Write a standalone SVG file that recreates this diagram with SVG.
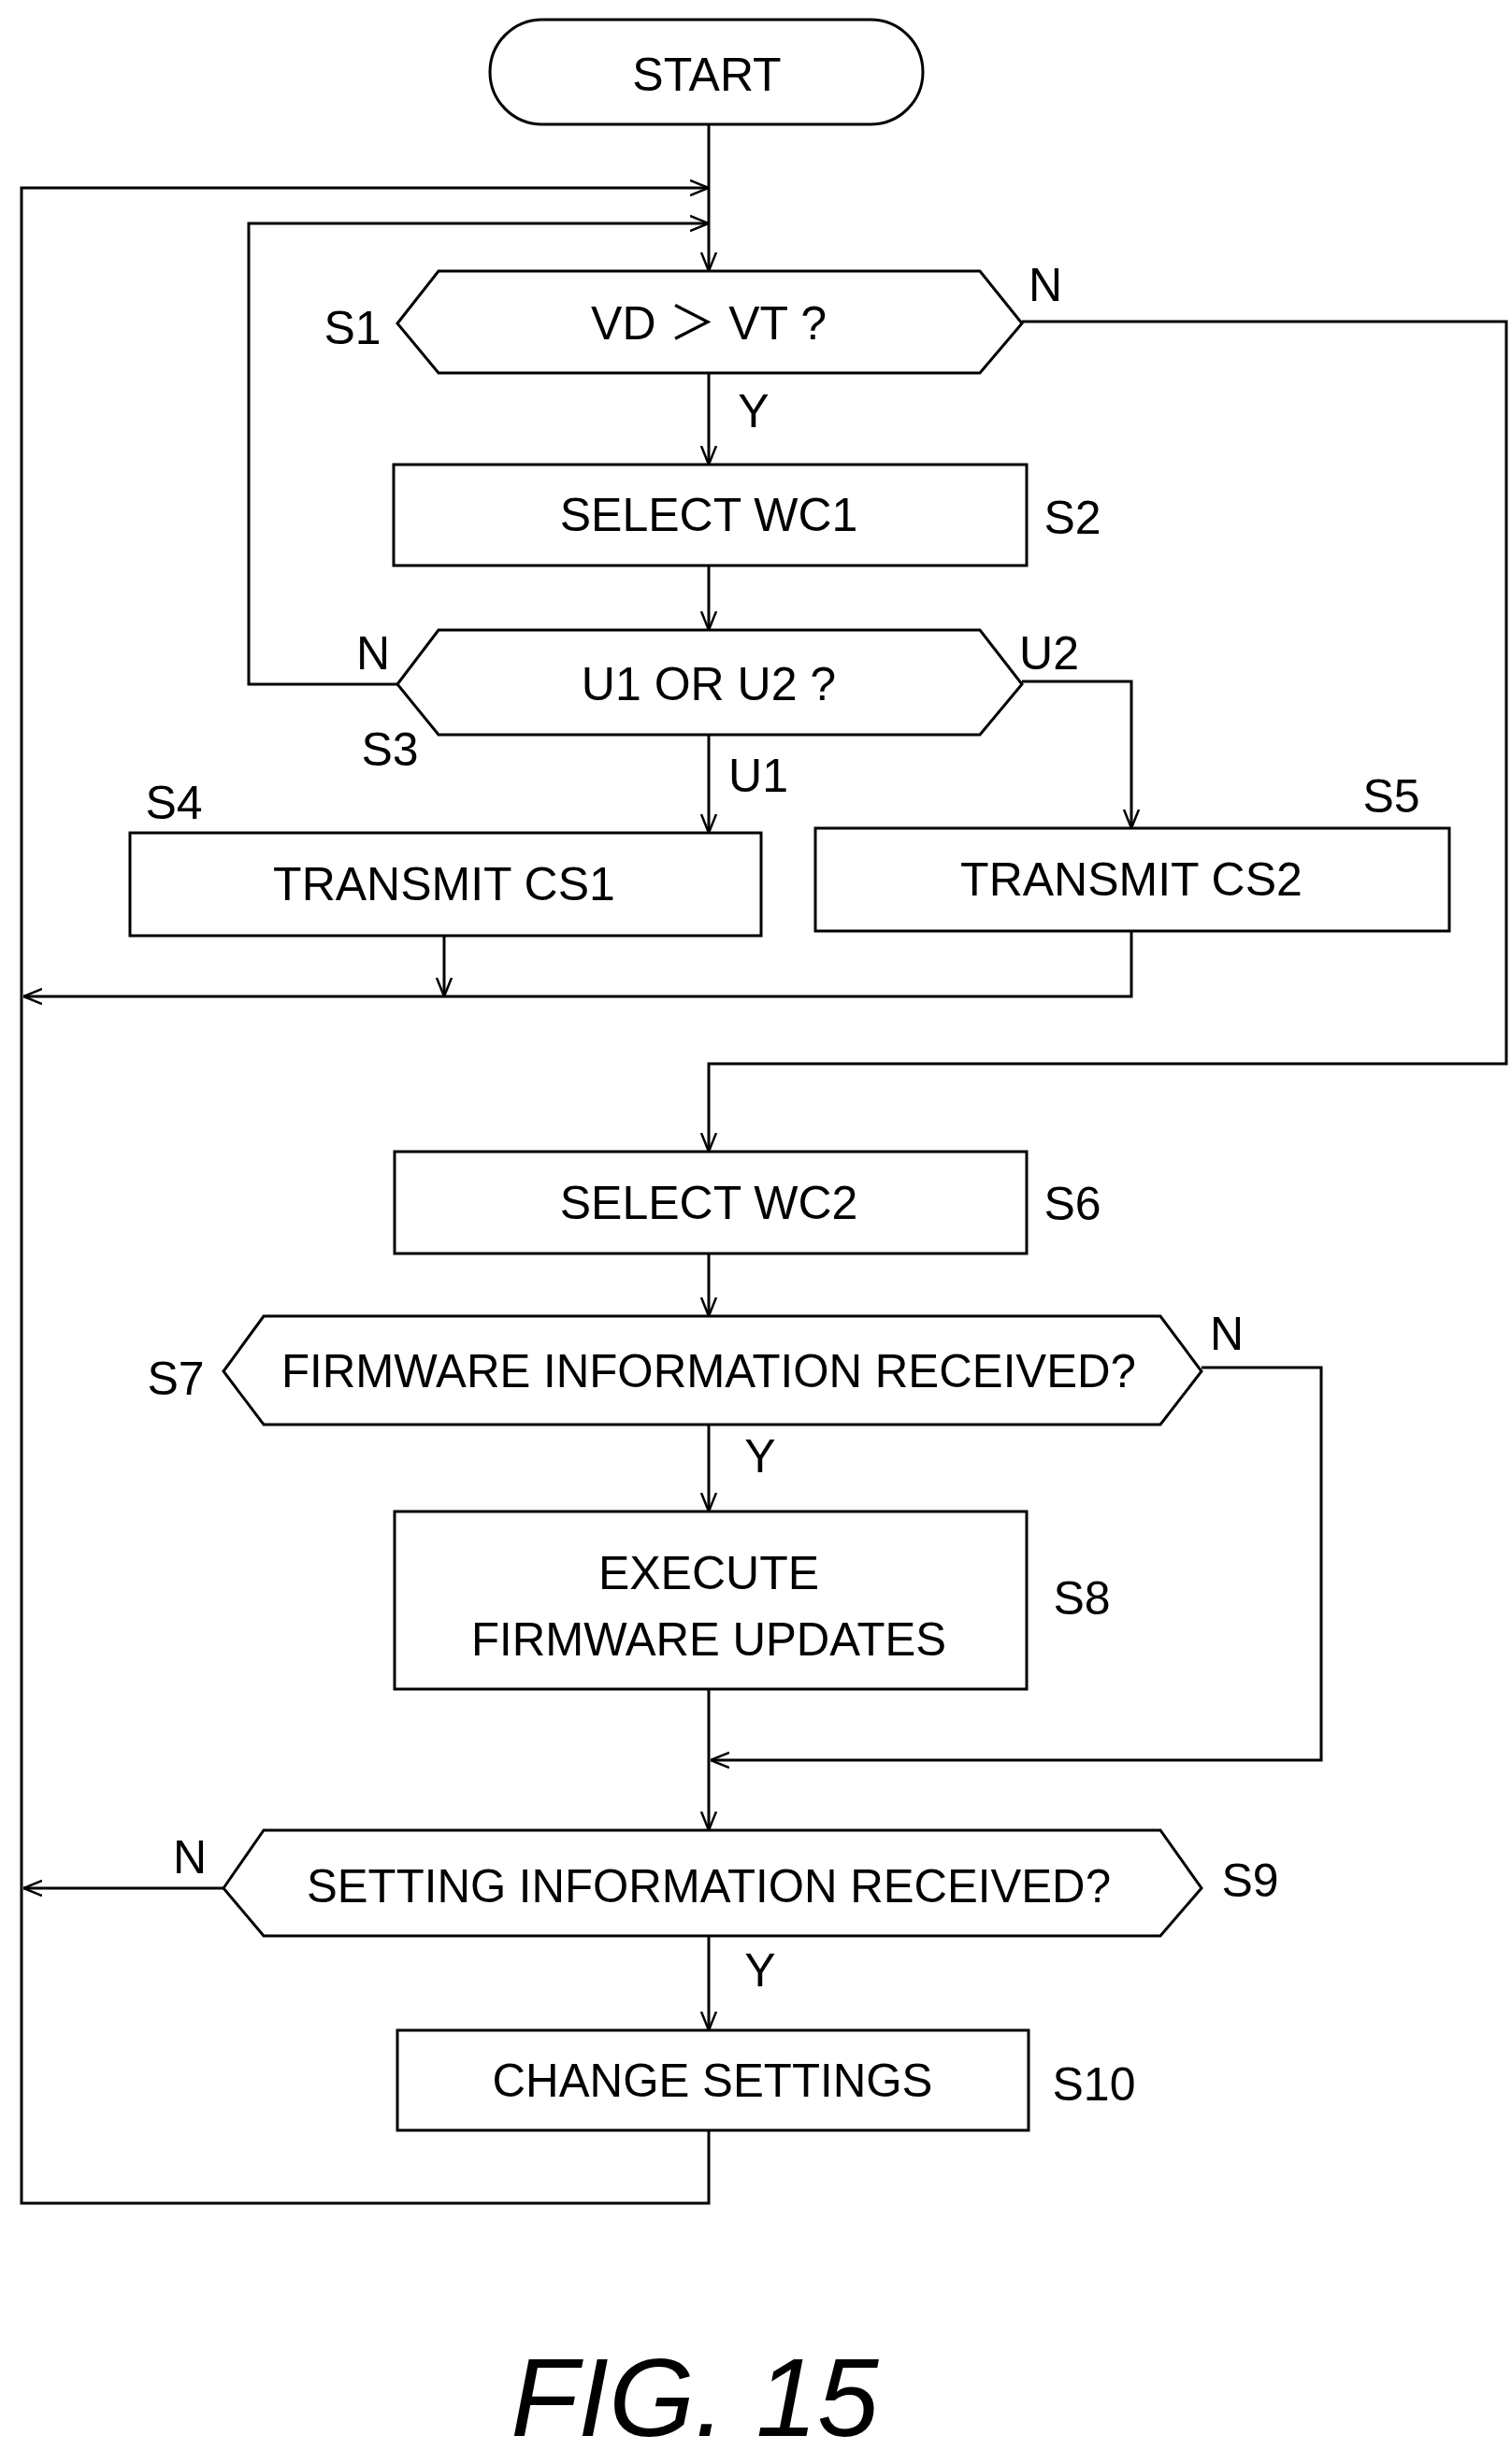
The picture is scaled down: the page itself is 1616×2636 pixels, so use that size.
<svg xmlns="http://www.w3.org/2000/svg" width="1616" height="2636" viewBox="0 0 1616 2636">
<style>
.s{fill:none;stroke:#000;stroke-width:3}
.n{fill:#fff;stroke:#000;stroke-width:3}
text{font-family:"Liberation Sans Narrow","Liberation Sans","Noto Sans CJK JP",sans-serif;font-size:50px;fill:#000;text-anchor:middle;dominant-baseline:central}
.fig{font-family:"Liberation Sans","Noto Sans",sans-serif;font-style:italic;font-size:118px;dominant-baseline:auto}
</style>
<defs>
<marker id="a" viewBox="0 0 20 20" refX="20" refY="10" markerWidth="20" markerHeight="20" markerUnits="userSpaceOnUse" orient="auto">
<path d="M0,2 L20,10 L0,18" fill="none" stroke="#000" stroke-width="2.5"/>
</marker>
</defs>
<g id="connectors" class="s">
<path d="M758,133 V290" marker-end="url(#a)"/>
<path d="M758,2279 V2357 H23 V201 H758" marker-end="url(#a)"/>
<path d="M425,732 H266 V239 H758" marker-end="url(#a)"/>
<path d="M758,399 V497" marker-end="url(#a)"/>
<path d="M758,605 V674" marker-end="url(#a)"/>
<path d="M758,786 V891" marker-end="url(#a)"/>
<path d="M1093,729 H1210 V886" marker-end="url(#a)"/>
<path d="M475,1001 V1066" marker-end="url(#a)"/>
<path d="M1210,996 V1066 H25" marker-end="url(#a)"/>
<path d="M1093,344 H1611 V1138 H758 V1232" marker-end="url(#a)"/>
<path d="M758,1341 V1408" marker-end="url(#a)"/>
<path d="M758,1524 V1617" marker-end="url(#a)"/>
<path d="M758,1807 V1958" marker-end="url(#a)"/>
<path d="M1285,1463 H1413 V1883 H760" marker-end="url(#a)"/>
<path d="M239,2020 H25" marker-end="url(#a)"/>
<path d="M758,2071 V2172" marker-end="url(#a)"/>
</g>
<g id="start"><rect class="n" x="524" y="21" width="463" height="112" rx="56"/><text x="756" y="80">START</text></g>
<g id="S1"><polygon class="n" points="425,346 469,290 1048,290 1093,346 1048,399 469,399"/><text x="758" y="346">VD ＞ VT ?</text><text x="377" y="351">S1</text><text x="1118" y="305">N</text><text x="806" y="440">Y</text></g>
<g id="S2"><rect class="n" x="421" y="497" width="677" height="108"/><text x="758" y="551">SELECT WC1</text><text x="1147" y="554">S2</text></g>
<g id="S3"><polygon class="n" points="425,732 469,674 1048,674 1093,732 1048,786 469,786"/><text x="758" y="732">U1 OR U2 ?</text><text x="399" y="699">N</text><text x="1122" y="699">U2</text><text x="417" y="802">S3</text><text x="811" y="830">U1</text></g>
<g id="S4"><rect class="n" x="139" y="891" width="675" height="110"/><text x="475" y="946">TRANSMIT CS1</text><text x="186" y="859">S4</text></g>
<g id="S5"><rect class="n" x="872" y="886" width="678" height="110"/><text x="1210" y="941">TRANSMIT CS2</text><text x="1488" y="852">S5</text></g>
<g id="S6"><rect class="n" x="422" y="1232" width="676" height="109"/><text x="758" y="1287">SELECT WC2</text><text x="1147" y="1288">S6</text></g>
<g id="S7"><polygon class="n" points="239,1467 282,1408 1241,1408 1285,1467 1241,1524 282,1524"/><text x="758" y="1467" textLength="914" lengthAdjust="spacingAndGlyphs">FIRMWARE INFORMATION RECEIVED?</text><text x="188" y="1475">S7</text><text x="1312" y="1427">N</text><text x="813" y="1558">Y</text></g>
<g id="S8"><rect class="n" x="422" y="1617" width="676" height="190"/><text x="758" y="1683">EXECUTE</text><text x="758" y="1754" textLength="508" lengthAdjust="spacingAndGlyphs">FIRMWARE UPDATES</text><text x="1157" y="1710">S8</text></g>
<g id="S9"><polygon class="n" points="239,2020 282,1958 1241,1958 1285,2020 1241,2071 282,2071"/><text x="758" y="2018" textLength="860" lengthAdjust="spacingAndGlyphs">SETTING INFORMATION RECEIVED?</text><text x="1337" y="2012">S9</text><text x="203" y="1987">N</text><text x="813" y="2108">Y</text></g>
<g id="S10"><rect class="n" x="425" y="2172" width="675" height="107"/><text x="762" y="2226" textLength="471" lengthAdjust="spacingAndGlyphs">CHANGE SETTINGS</text><text x="1170" y="2230">S10</text></g>
<text class="fig" x="743" y="2606">FIG. 15</text>
</svg>
